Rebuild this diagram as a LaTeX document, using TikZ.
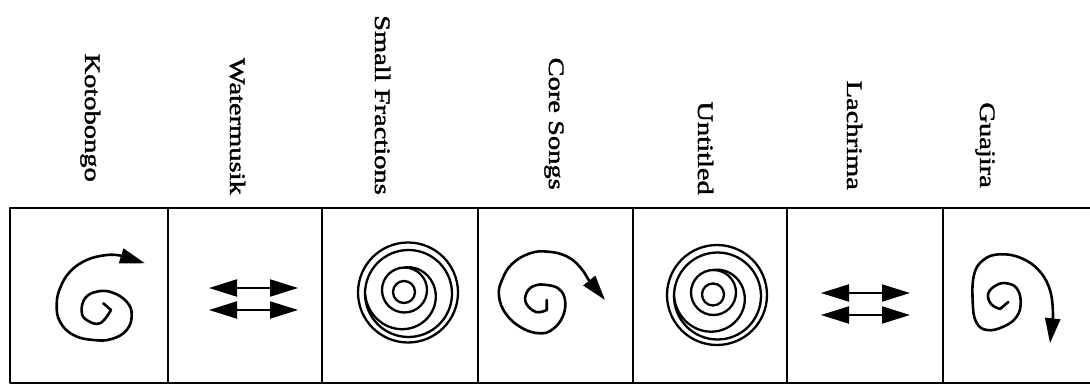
\documentclass[tikz,border=0pt]{standalone}
\usepackage{fontspec}
\setmainfont{Liberation Serif}
\newfontfamily\titlefont{Liberation Serif}[BoldFont=Liberation Serif,BoldFeatures={FakeBold=1.6}]
\usetikzlibrary{arrows.meta}

\begin{document}
\begin{tikzpicture}[x=1pt,y=-1pt,line cap=round,line join=round,
  cell/.style={draw,line width=2pt,minimum height=175pt,inner sep=0pt,outer sep=0pt},
  title/.style={rotate=-90,anchor=base east,inner sep=0pt,font=\titlefont\bfseries\fontsize{22}{24}\selectfont},
  curl/.style={line width=2.6pt,-{Triangle[length=25pt,width=15pt]}},
  ring/.style={line width=2.3pt},
  twin/.style={line width=2pt,{Triangle[length=28pt,width=17pt]}-{Triangle[length=28pt,width=17pt]}}]
\useasboundingbox (0,0) rectangle (1090,385);
% table cells
\node[cell,minimum width=158pt] (kotobongo) at (89,295.5) {};
\node[cell,minimum width=154pt] (watermusik) at (245,295.5) {};
\node[cell,minimum width=156pt] (smallfrac) at (400,295.5) {};
\node[cell,minimum width=155pt] (coresongs) at (555.5,295.5) {};
\node[cell,minimum width=154pt] (untitled) at (710,295.5) {};
\node[cell,minimum width=156pt] (lachrima) at (865,295.5) {};
\node[cell,minimum width=155pt] (guajira) at (1020.5,295.5) {};
% titles
\node[title] (kotobongo-t) at (85,182) {\scalebox{1.295}[1]{Kotobongo}};
\node[title] (watermusik-t) at (230,195) {\scalebox{1.295}[1]{Watermusik}};
\node[title] (smallfrac-t) at (375,195) {\scalebox{1.295}[1]{Small Fractions}};
\node[title] (coresongs-t) at (549,190) {\scalebox{1.295}[1]{Core Songs}};
\node[title] (untitled-t) at (698,195) {\scalebox{1.295}[1]{Untitled}};
\node[title] (lachrima-t) at (847,190) {\scalebox{1.295}[1]{Lachrima}};
\node[title] (guajira-t) at (980,188) {\scalebox{1.295}[1]{Guajira}};
% Kotobongo
\draw[curl] (103.3,303.3) -- plot[smooth,tension=0.7] coordinates {(111,310) (100,323.3) (86.7,320) (81.7,311.7) (85,298.3) (96.7,291.7) (111.7,292.3) (126.7,301.7) (131.7,315) (126.7,330) (111.7,339) (93.3,340) (73.3,335) (60,321.7) (56.7,305) (60,288.3) (70,271.7) (86.7,260) (106.7,255) (120,255.5)} -- (145,263.3);
% Watermusik
\draw[twin] (209,288) -- (298,288);
\draw[twin] (209,310) -- (298,310);
% Small Fractions
\begin{scope}[shift={(408,292.5)}]
\draw[ring] (0,0) circle[radius=50];
\draw[ring] (0.5,1) circle[radius=43.5];
\draw[ring] (-3.5,-2.5) circle[radius=22.5];
\draw[ring] (-4,-0.5) circle[radius=11];
\draw[ring] plot[domain=-90:180,samples=50,variable=\t] ({-3.5+4*(\t+90)/270+(22.5+21*(\t+90)/270)*cos(\t)},{-2.5+3.5*(\t+90)/270+(22.5+21*(\t+90)/270)*sin(\t)});
\end{scope}
% Core Songs
\draw[curl] (546.7,300) -- plot[smooth,tension=0.7] coordinates {(546.7,310) (536,312) (526,303) (527,292) (535,285.5) (547,285) (559,289) (565,300) (563,316) (553,329) (540,333.3) (522,328) (506,314) (499,296) (502,280) (512,264) (530,253.3) (548.3,251.7) (567,256.5) (580,267) (588,279)} -- (605,300);
% Untitled
\begin{scope}[shift={(717,295)}]
\draw[ring] (0,0) circle[radius=50];
\draw[ring] (0.5,1) circle[radius=43.5];
\draw[ring] (-3.5,-2.5) circle[radius=22.5];
\draw[ring] (-4,-0.5) circle[radius=11];
\draw[ring] plot[domain=-90:180,samples=50,variable=\t] ({-3.5+4*(\t+90)/270+(22.5+21*(\t+90)/270)*cos(\t)},{-2.5+3.5*(\t+90)/270+(22.5+21*(\t+90)/270)*sin(\t)});
\end{scope}
% Lachrima
\draw[twin] (821,293) -- (910,293);
\draw[twin] (821,315) -- (910,315);
% Guajira
\draw[curl] (1008.3,302) -- plot[smooth,tension=0.7] coordinates {(1000,309) (991,304) (988.3,293.3) (996.7,285) (1006.7,283.3) (1016.7,288.3) (1020.7,301.7) (1016.7,316.7) (1003.3,326.7) (986.7,330) (976,321.7) (972.7,301.7) (974,275) (983.3,260) (1000,254.3) (1021.7,258.3) (1040,271.7) (1050.5,292) (1053,316)} -- (1050,343.3);
\end{tikzpicture}
\end{document}
